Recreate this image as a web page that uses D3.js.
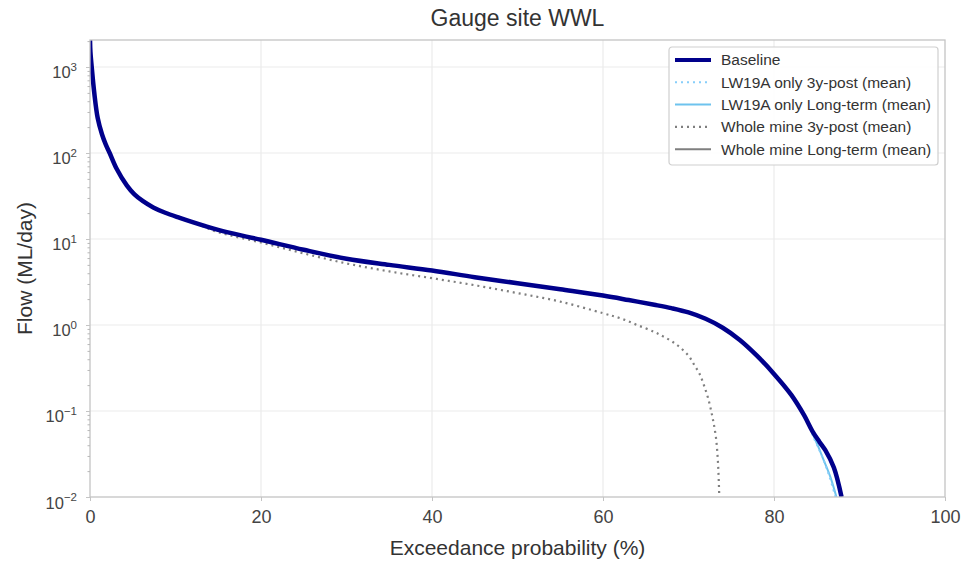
<!DOCTYPE html>
<html>
<head>
<meta charset="utf-8">
<script src="https://cdn.jsdelivr.net/npm/d3@7"></script>
<style>
  body { margin: 0; background: #fff; }
  svg { font-family: "Liberation Sans", Arial, sans-serif; }
</style>
</head>
<body>
<div id="chart"></div>
<script>
// exceedance (%) and flow (ML/day)
const baseX = [0, 0.05, 0.2, 0.5, 0.9, 1.4, 1.85, 2.3, 3.1, 4.3, 5.2, 6.2, 7.4, 8.8, 10.5, 12, 13.5, 16, 20, 25, 30, 35, 40, 45, 50, 55, 60, 63, 66, 68, 70, 72, 74, 76, 78, 80, 82, 83.5, 84.5, 85.3, 86, 87, 87.9];
const baseY = [2100, 1500, 1000, 500, 255, 165, 125, 100, 66, 42, 33, 27.5, 23.3, 20.2, 17.6, 15.7, 14.1, 12, 9.8, 7.5, 5.9, 5.0, 4.3, 3.6, 3.06, 2.6, 2.2, 1.95, 1.72, 1.57, 1.4, 1.18, 0.93, 0.67, 0.44, 0.27, 0.155, 0.09, 0.058, 0.044, 0.035, 0.022, 0.01];

const lwPostX = [0, 0.05, 0.2, 0.5, 0.9, 1.4, 2.3, 3.1, 4.3, 6.2, 8.8, 12, 16, 20, 30, 40, 50, 60, 66, 70, 74, 78, 80, 82, 83.5, 84.1, 84.6, 85.2, 85.8, 86.5, 87.2];
const lwPostY = [2100, 1500, 1000, 500, 255, 165, 100, 66, 42, 27.5, 20.2, 15.7, 12, 9.8, 5.9, 4.3, 3.06, 2.2, 1.72, 1.4, 0.93, 0.44, 0.27, 0.155, 0.09, 0.066, 0.05, 0.037, 0.027, 0.017, 0.01];

const lwLongX = [0, 0.05, 0.2, 0.5, 0.9, 1.4, 2.3, 3.1, 4.3, 6.2, 8.8, 12, 16, 20, 30, 40, 50, 60, 66, 70, 74, 78, 80, 82, 83.5, 84.1, 84.6, 85.2, 85.8, 86.6, 87.3];
const lwLongY = [2100, 1500, 1000, 500, 255, 165, 100, 66, 42, 27.5, 20.2, 15.7, 12, 9.8, 5.9, 4.3, 3.06, 2.2, 1.72, 1.4, 0.93, 0.44, 0.27, 0.155, 0.09, 0.067, 0.052, 0.038, 0.027, 0.017, 0.01];

const minePostX = [0, 0.05, 0.2, 0.5, 0.9, 1.4, 2.3, 3.1, 4.3, 6.2, 8.8, 12, 15, 20, 25, 30, 35, 40, 45, 50, 55, 60, 62, 64, 66, 67, 68, 69, 70, 70.7, 71.3, 71.8, 72.3, 72.8, 73.2, 73.45, 73.6];
const minePostY = [2100, 1500, 1000, 500, 255, 165, 100, 66, 42, 27.5, 20.2, 15.7, 12, 9.1, 6.8, 5.2, 4.2, 3.5, 2.9, 2.35, 1.87, 1.37, 1.2, 1.0, 0.83, 0.74, 0.65, 0.55, 0.44, 0.34, 0.27, 0.2, 0.14, 0.085, 0.05, 0.025, 0.01];

const mineLongX = baseX;
const mineLongY = baseY;

const xTicks = [0, 20, 40, 60, 80, 100];
const yTicks = [1e-2, 1e-1, 1e0, 1e1, 1e2, 1e3];

const series = [
  {name: "Whole mine Long-term (mean)", x: mineLongX, y: mineLongY, color: "#7f7f7f", width: 2, dash: null},
  {name: "Whole mine 3y-post (mean)", x: minePostX, y: minePostY, color: "#7f7f7f", width: 2.2, dash: "2,4"},
  {name: "LW19A only Long-term (mean)", x: lwLongX, y: lwLongY, color: "#6ec3ee", width: 2, dash: null},
  {name: "LW19A only 3y-post (mean)", x: lwPostX, y: lwPostY, color: "#87cefa", width: 2, dash: "2,4"},
  {name: "Baseline", x: baseX, y: baseY, color: "#00008b", width: 4.5, dash: null}
];
const legendOrder = ["Baseline", "LW19A only 3y-post (mean)", "LW19A only Long-term (mean)", "Whole mine 3y-post (mean)", "Whole mine Long-term (mean)"];

const W = 963, H = 563;
const m = {left: 90, right: 18, top: 40, bottom: 66};

const svg = d3.select("#chart").append("svg")
  .attr("width", W).attr("height", H);

const x = d3.scaleLinear().domain([0, 100]).range([m.left, W - m.right]);
const y = d3.scaleLog().domain([0.01, 2060]).range([H - m.bottom, m.top]);

// grid
svg.append("g").selectAll("line")
  .data(xTicks.slice(1, -1))
  .enter().append("line")
    .attr("x1", d => x(d)).attr("x2", d => x(d))
    .attr("y1", m.top).attr("y2", H - m.bottom)
    .attr("stroke", "#ebebeb").attr("stroke-width", 1.2);
svg.append("g").selectAll("line")
  .data(yTicks.slice(1))
  .enter().append("line")
    .attr("x1", m.left).attr("x2", W - m.right)
    .attr("y1", d => y(d)).attr("y2", d => y(d))
    .attr("stroke", "#ebebeb").attr("stroke-width", 1.2);

// lines
svg.append("clipPath").attr("id", "clip")
  .append("rect").attr("x", m.left).attr("y", m.top)
  .attr("width", W - m.right - m.left).attr("height", H - m.bottom - m.top);

const line = d3.line().x(d => x(d[0])).y(d => y(d[1])).curve(d3.curveCatmullRom.alpha(0.5));

svg.append("g").attr("clip-path", "url(#clip)")
  .selectAll("path")
  .data(series)
  .enter().append("path")
    .attr("d", s => line(d3.zip(s.x, s.y)))
    .attr("fill", "none")
    .attr("stroke", s => s.color)
    .attr("stroke-width", s => s.width)
    .attr("stroke-dasharray", s => s.dash)
    .attr("stroke-linejoin", "round");

// frame
svg.append("rect")
  .attr("x", m.left).attr("y", m.top)
  .attr("width", W - m.right - m.left).attr("height", H - m.bottom - m.top)
  .attr("fill", "none").attr("stroke", "#c4c4c4").attr("stroke-width", 1.3);

// x axis
const gx = svg.append("g")
  .attr("transform", `translate(0,${H - m.bottom})`)
  .call(d3.axisBottom(x).tickValues(xTicks).tickSize(4).tickPadding(9));
gx.select(".domain").remove();
gx.selectAll("line").attr("stroke", "#c4c4c4");
gx.selectAll("text").attr("font-size", 18).attr("fill", "#444")
  .attr("font-family", "Liberation Sans, Arial, sans-serif");

// y minor ticks
const minor = [];
yTicks.forEach(t => { for (let k = 2; k < 10; k++) if (t * k < 2060) minor.push(t * k); });
svg.append("g")
  .attr("transform", `translate(${m.left},0)`)
  .call(d3.axisLeft(y).tickValues(minor).tickSize(2.5).tickFormat(""))
  .call(g => g.select(".domain").remove())
  .selectAll("line").attr("stroke", "#b8b8b8");

// y axis
const gy = svg.append("g")
  .attr("transform", `translate(${m.left},0)`)
  .call(d3.axisLeft(y).tickValues(yTicks).tickSize(4).tickPadding(8).tickFormat(""));
gy.select(".domain").remove();
gy.selectAll("line").attr("stroke", "#c4c4c4");
gy.selectAll(".tick").append("text")
  .attr("x", -13).attr("y", 11)
  .attr("text-anchor", "end")
  .attr("fill", "#444")
  .attr("font-size", 16.5)
  .attr("font-family", "Liberation Sans, Arial, sans-serif")
  .each(function(d) {
    const t = d3.select(this);
    t.append("tspan").text("10");
    t.append("tspan").attr("dy", "-0.65em").attr("font-size", 11.5)
      .text(String(Math.round(Math.log10(d))).replace("-", "\u2212"));
  });

// titles
svg.append("text")
  .attr("x", (m.left + W - m.right) / 2).attr("y", 26)
  .attr("text-anchor", "middle").attr("font-size", 23).attr("fill", "#333")
  .text("Gauge site WWL");
svg.append("text")
  .attr("x", (m.left + W - m.right) / 2).attr("y", 555)
  .attr("text-anchor", "middle").attr("font-size", 21).attr("fill", "#333")
  .text("Exceedance probability (%)");
svg.append("text")
  .attr("transform", `translate(32,${(m.top + H - m.bottom) / 2}) rotate(-90)`)
  .attr("text-anchor", "middle").attr("font-size", 21).attr("fill", "#333")
  .text("Flow (ML/day)");

// legend
const lg = svg.append("g").attr("transform", "translate(669,47)");
lg.append("rect")
  .attr("width", 269).attr("height", 118).attr("rx", 3)
  .attr("fill", "#fff").attr("fill-opacity", 0.85)
  .attr("stroke", "#cfcfcf").attr("stroke-width", 1.2);
const rows = lg.selectAll("g.row")
  .data(legendOrder.map(n => series.find(s => s.name === n)))
  .enter().append("g").attr("class", "row")
  .attr("transform", (d, i) => `translate(0,${13 + i * 22.3})`);
rows.append("line")
  .attr("x1", 6).attr("x2", 42)
  .attr("stroke", d => d.color)
  .attr("stroke-width", d => d.name === "Baseline" ? 4 : d.width)
  .attr("stroke-dasharray", d => d.dash);
rows.append("text")
  .attr("x", 52).attr("dy", "0.35em")
  .attr("font-size", 15.5).attr("fill", "#333")
  .text(d => d.name);
</script>
</body>
</html>
